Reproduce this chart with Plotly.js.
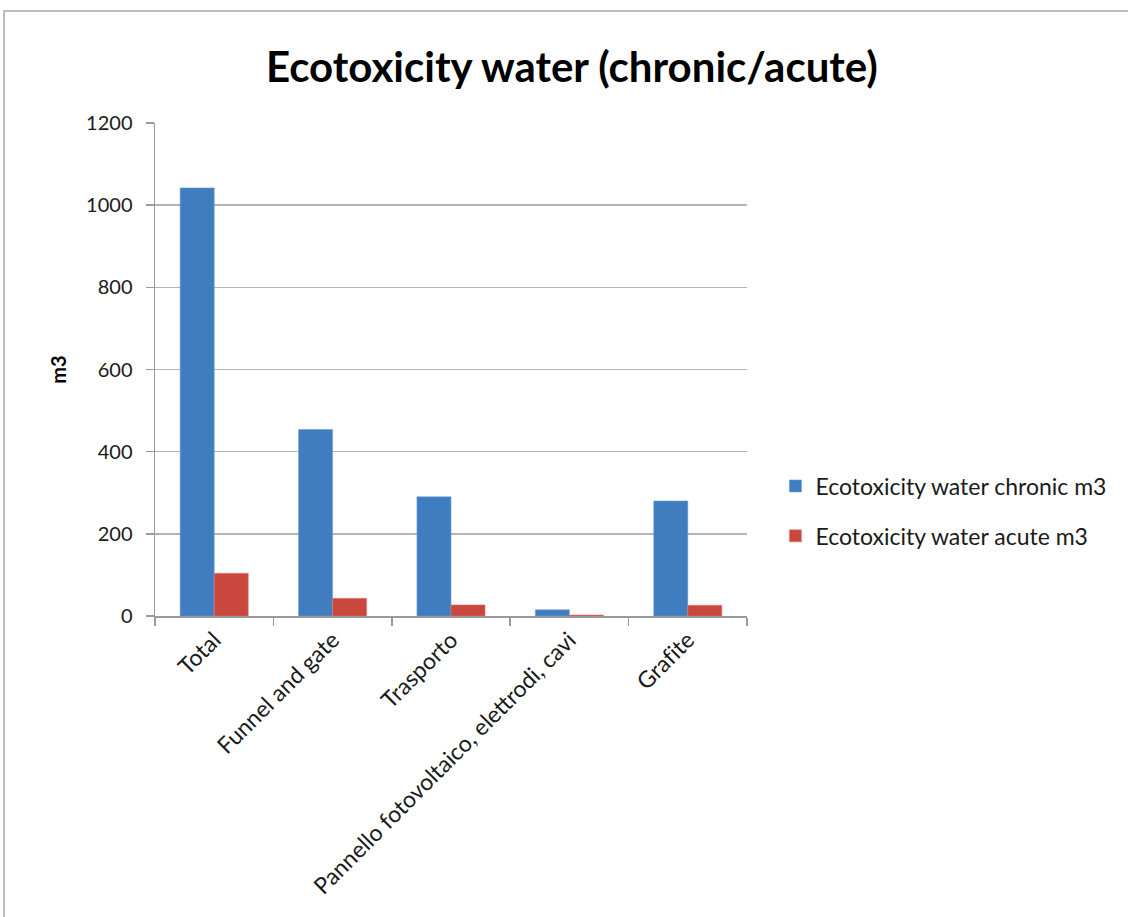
<!DOCTYPE html>
<html>
<head>
<meta charset="utf-8">
<script src="https://cdn.plot.ly/plotly-3.0.1.min.js"></script>
<style>
  html, body { margin: 0; padding: 0; background: #ffffff; }
  #chart { width: 1128px; height: 917px; }
</style>
</head>
<body>
<div id="chart"></div>
<script>
// Categories and the two impact series (m3)
// (a zero-width non-joiner keeps the "fi" pair from collapsing into a ligature)
const categories = ["Total", "Funnel and gate", "Trasporto", "Pannello fotovoltaico, elettrodi, cavi", "Graf\u200Cite"];
const chronicValues = [1042, 454, 290, 15, 280];
const acuteValues = [104, 43, 27, 2.5, 26];
const seriesNames = ["Ecotoxicity water chronic m3", "Ecotoxicity water acute m3"];
const yTicks = [0, 200, 400, 600, 800, 1000, 1200];

const FONT = "Lato, 'Open Sans', sans-serif";

const traces = [
  {
    type: "bar",
    name: seriesNames[0],
    x: categories,
    y: chronicValues,
    legendgroup: "a",
    marker: { color: "#3f7cc0", line: { color: "#6a9fd8", width: 0.6 } },
    hoverinfo: "x+y"
  },
  {
    type: "bar",
    name: seriesNames[1],
    x: categories,
    y: acuteValues,
    legendgroup: "b",
    marker: { color: "#c8483e", line: { color: "#e07a72", width: 0.6 } },
    hoverinfo: "x+y"
  }
];

const layout = {
  width: 1128,
  height: 917,
  margin: { l: 155, r: 381, t: 123, b: 301, pad: 0 },
  paper_bgcolor: "#ffffff",
  plot_bgcolor: "#ffffff",
  font: { family: FONT, size: 18, color: "#1a1a1a" },
  title: {
    text: "<b>Ecotoxicity water (chronic/acute)</b>",
    font: { family: FONT, size: 42, color: "#000000" },
    x: 0.507,
    xref: "container",
    xanchor: "center",
    y: 0.927,
    yanchor: "middle"
  },
  barmode: "group",
  bargap: 0.425,
  bargroupgap: 0,
  showlegend: true,
  legend: {
    x: 1.048,
    xanchor: "left",
    y: 0.213,
    yanchor: "middle",
    traceorder: "grouped",
    tracegroupgap: 17,
    font: { family: FONT, size: 23, color: "#1a1a1a" },
    itemwidth: 30,
    bgcolor: "rgba(0,0,0,0)"
  },
  xaxis: {
    type: "category",
    tickangle: -45,
    tickson: "boundaries",
    ticks: "outside",
    ticklen: 8,
    tickcolor: "#9a9a9a",
    tickwidth: 1.5,
    showline: true,
    linecolor: "#9a9a9a",
    linewidth: 1.5,
    showgrid: false,
    tickfont: { family: FONT, size: 23, color: "#1a1a1a" },
    automargin: false
  },
  yaxis: {
    range: [0, 1200],
    tickvals: yTicks,
    ticktext: yTicks.map(String),
    ticks: "outside",
    ticklen: 8,
    tickcolor: "#9a9a9a",
    tickwidth: 1.5,
    ticklabelstandoff: 9,
    showline: true,
    linecolor: "#9a9a9a",
    linewidth: 1.5,
    showgrid: true,
    gridcolor: "#b4b4b4",
    gridwidth: 1.5,
    zeroline: false,
    tickfont: { family: FONT, size: 20, color: "#1a1a1a" },
    title: {
      text: "<b>m3</b>",
      font: { family: FONT, size: 20, color: "#000000" },
      standoff: 14
    },
    automargin: false
  },
  shapes: [
    {
      // chart frame
      type: "rect",
      xref: "paper",
      yref: "paper",
      x0: -0.255,
      x1: 1.66,
      y0: -0.65,
      y1: 1.227,
      line: { color: "#a8a8a8", width: 1.5 },
      fillcolor: "rgba(0,0,0,0)",
      layer: "below"
    }
  ]
};

Plotly.newPlot("chart", traces, layout, { displayModeBar: false, staticPlot: true });
</script>
</body>
</html>
